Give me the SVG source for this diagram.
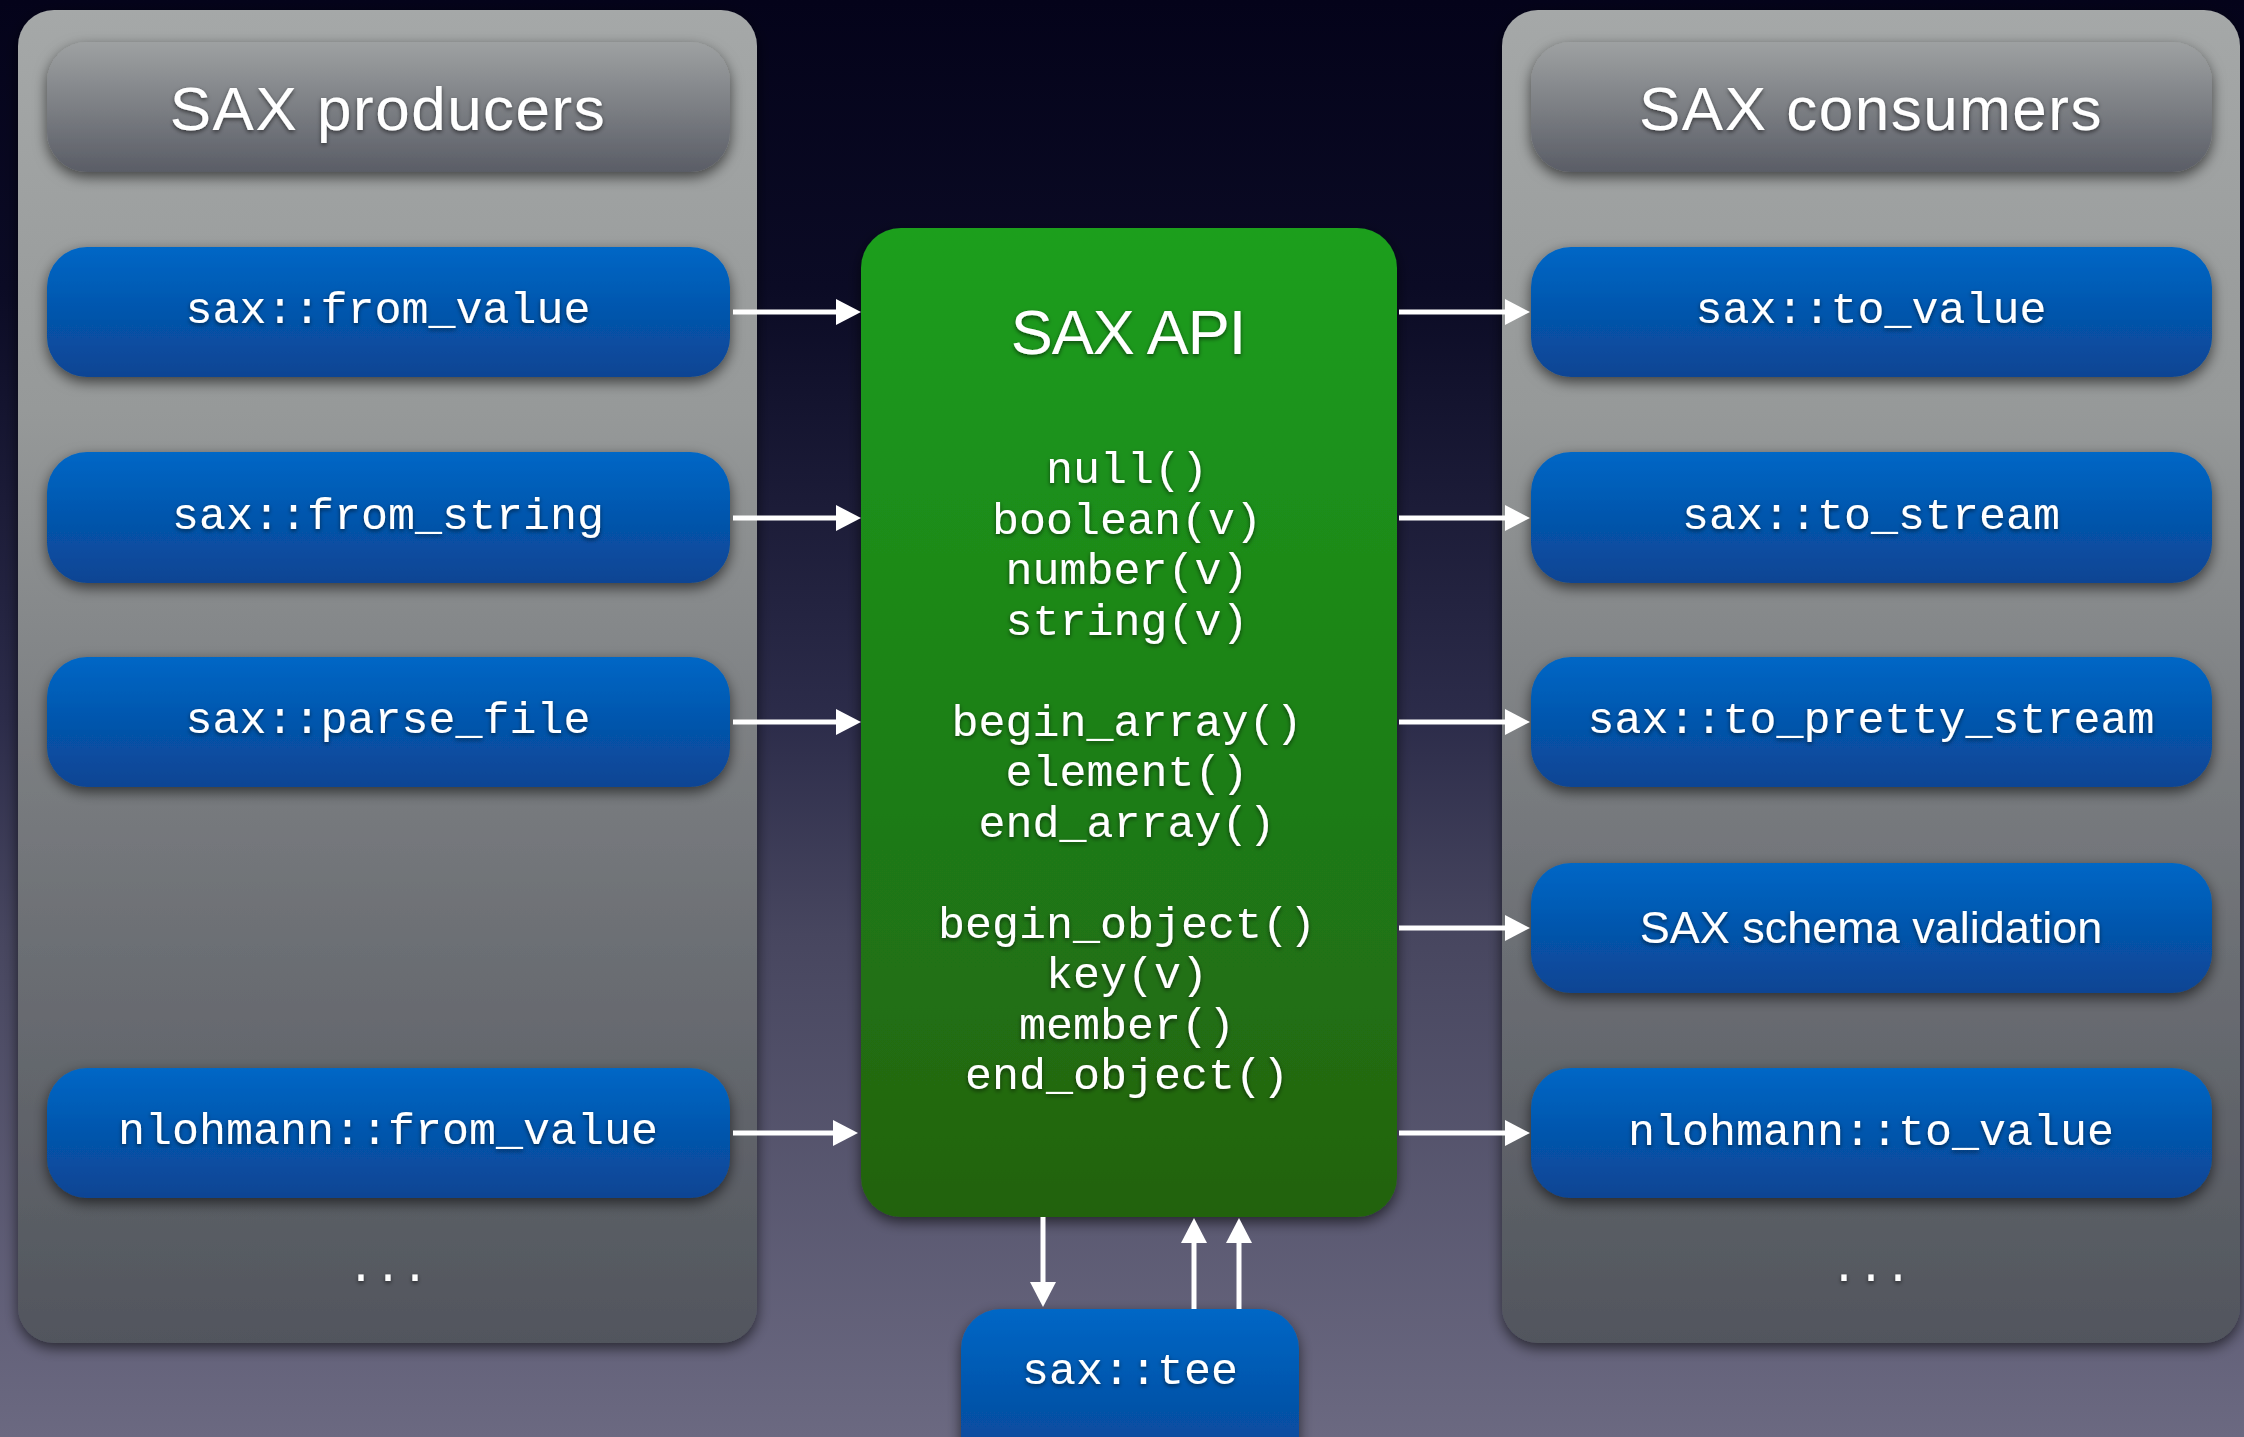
<svg xmlns="http://www.w3.org/2000/svg" width="2244" height="1437" viewBox="0 0 2244 1437">
  <defs>
    <linearGradient id="bg" x1="0" y1="0" x2="0" y2="1">
      <stop offset="0" stop-color="#04031a"/>
      <stop offset="0.2" stop-color="#0b0b25"/>
      <stop offset="0.5" stop-color="#2c2c4a"/>
      <stop offset="0.65" stop-color="#47465f"/>
      <stop offset="1" stop-color="#6b6981"/>
    </linearGradient>
    <linearGradient id="panel" x1="0" y1="0" x2="0" y2="1">
      <stop offset="0" stop-color="#a5a8a8"/>
      <stop offset="0.3" stop-color="#969999"/>
      <stop offset="0.7" stop-color="#6c6f74"/>
      <stop offset="1" stop-color="#51555d"/>
    </linearGradient>
    <linearGradient id="title" x1="0" y1="0" x2="0" y2="1">
      <stop offset="0" stop-color="#9ea1a2"/>
      <stop offset="1" stop-color="#5a5d66"/>
    </linearGradient>
    <linearGradient id="blue" x1="0" y1="0" x2="0" y2="1">
      <stop offset="0" stop-color="#0067c6"/>
      <stop offset="1" stop-color="#0a4493"/>
    </linearGradient>
    <linearGradient id="green" x1="0" y1="0" x2="0" y2="1">
      <stop offset="0" stop-color="#1a9f1e"/>
      <stop offset="1" stop-color="#22620f"/>
    </linearGradient>
    <filter id="shadow" x="-10%" y="-10%" width="120%" height="125%">
      <feDropShadow dx="0" dy="5" stdDeviation="7" flood-color="#000" flood-opacity="0.6"/>
    </filter>
    <filter id="tshadow" x="-5%" y="-20%" width="110%" height="140%">
      <feDropShadow dx="0" dy="2" stdDeviation="2" flood-color="#000" flood-opacity="0.55"/>
    </filter>
    <marker id="ah" viewBox="0 0 25 26" refX="5" refY="13" markerWidth="25" markerHeight="26" markerUnits="userSpaceOnUse" orient="auto">
      <path d="M0,0 L25,13 L0,26 z" fill="#fff"/>
    </marker>
    <style>
      .panel { fill: url(#panel); filter: url(#shadow); }
      .title { fill: url(#title); filter: url(#shadow); }
      .blue { fill: url(#blue); filter: url(#shadow); }
      .green { fill: url(#green); filter: url(#shadow); }
      .ttl { font-family: "Liberation Sans", Arial, sans-serif; font-size: 62px; fill: #fff; text-anchor: middle; letter-spacing: 1.5px; filter: url(#tshadow); }
      .sans { font-family: "Liberation Sans", Arial, sans-serif; font-size: 45px; fill: #fff; text-anchor: middle; filter: url(#tshadow); }
      .mono { font-family: "Liberation Mono", "Courier New", monospace; font-size: 45px; fill: #fff; text-anchor: middle; filter: url(#tshadow); }
      .conn path { stroke: #fff; stroke-width: 5; fill: none; marker-end: url(#ah); }
    </style>
  </defs>

  <rect x="0" y="0" width="2244" height="1437" fill="url(#bg)"/>

  <g id="producers-panel">
    <rect class="panel" x="18" y="10" width="739" height="1333" rx="36" ry="36"/>
    <rect class="title" x="47" y="42" width="683" height="130" rx="40" ry="40"/>
    <text class="ttl" x="388" y="130">SAX producers</text>
    <text class="mono" x="388" y="1281">...</text>
  </g>

  <g id="consumers-panel">
    <rect class="panel" x="1502" y="10" width="738" height="1333" rx="36" ry="36"/>
    <rect class="title" x="1531" y="42" width="681" height="130" rx="40" ry="40"/>
    <text class="ttl" x="1871" y="130">SAX consumers</text>
    <text class="mono" x="1871" y="1281">...</text>
  </g>

  <g id="from_value">
    <rect class="blue" x="47" y="247" width="683" height="130" rx="40" ry="40"/>
    <text class="mono" x="388" y="323">sax::from_value</text>
  </g>
  <g id="from_string">
    <rect class="blue" x="47" y="452" width="683" height="131" rx="40" ry="40"/>
    <text class="mono" x="388" y="529">sax::from_string</text>
  </g>
  <g id="parse_file">
    <rect class="blue" x="47" y="657" width="683" height="130" rx="40" ry="40"/>
    <text class="mono" x="388" y="733">sax::parse_file</text>
  </g>
  <g id="nlohmann_from_value">
    <rect class="blue" x="47" y="1068" width="683" height="130" rx="40" ry="40"/>
    <text class="mono" x="388" y="1144">nlohmann::from_value</text>
  </g>

  <g id="to_value">
    <rect class="blue" x="1531" y="247" width="681" height="130" rx="40" ry="40"/>
    <text class="mono" x="1871" y="323">sax::to_value</text>
  </g>
  <g id="to_stream">
    <rect class="blue" x="1531" y="452" width="681" height="131" rx="40" ry="40"/>
    <text class="mono" x="1871" y="529">sax::to_stream</text>
  </g>
  <g id="to_pretty_stream">
    <rect class="blue" x="1531" y="657" width="681" height="130" rx="40" ry="40"/>
    <text class="mono" x="1871" y="733">sax::to_pretty_stream</text>
  </g>
  <g id="schema_validation">
    <rect class="blue" x="1531" y="863" width="681" height="130" rx="40" ry="40"/>
    <text class="sans" x="1871" y="943">SAX schema validation</text>
  </g>
  <g id="nlohmann_to_value">
    <rect class="blue" x="1531" y="1068" width="681" height="130" rx="40" ry="40"/>
    <text class="mono" x="1871" y="1145">nlohmann::to_value</text>
  </g>

  <g id="sax_api">
    <rect class="green" x="861" y="228" width="536" height="989" rx="40" ry="40"/>
    <text class="ttl" x="1128" y="354" style="font-size:63px; letter-spacing:-1px">SAX API</text>
    <text class="mono" x="1127" y="483">null()</text>
    <text class="mono" x="1127" y="533.5">boolean(v)</text>
    <text class="mono" x="1127" y="584">number(v)</text>
    <text class="mono" x="1127" y="634.5">string(v)</text>
    <text class="mono" x="1127" y="735.5">begin_array()</text>
    <text class="mono" x="1127" y="786">element()</text>
    <text class="mono" x="1127" y="836.5">end_array()</text>
    <text class="mono" x="1127" y="937.5">begin_object()</text>
    <text class="mono" x="1127" y="988">key(v)</text>
    <text class="mono" x="1127" y="1038.5">member()</text>
    <text class="mono" x="1127" y="1089">end_object()</text>
  </g>

  <g id="sax_tee">
    <rect class="blue" x="961" y="1309" width="338" height="170" rx="40" ry="40"/>
    <text class="mono" x="1130" y="1384">sax::tee</text>
  </g>

  <g id="connectors" class="conn">
    <path d="M733,312 H841"/>
    <path d="M733,518 H841"/>
    <path d="M733,722 H841"/>
    <path d="M733,1133 H838"/>
    <path d="M1399,312 H1510"/>
    <path d="M1399,518 H1510"/>
    <path d="M1399,722 H1510"/>
    <path d="M1399,928 H1510"/>
    <path d="M1399,1133 H1510"/>
    <path d="M1043,1217 V1287"/>
    <path d="M1194,1309 V1238"/>
    <path d="M1239,1309 V1238"/>
  </g>
</svg>
